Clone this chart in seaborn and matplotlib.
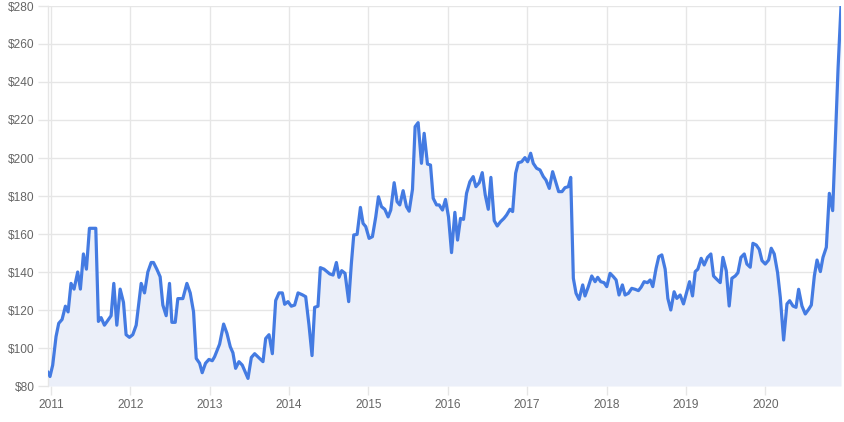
import matplotlib
matplotlib.use("Agg")
import matplotlib.pyplot as plt
import seaborn as sns

# Decimal-year positions of the points and the price at each point
years = [
    2010.958, 2010.987, 2011.021, 2011.063, 2011.097, 2011.139, 2011.181, 2011.215, 2011.252, 2011.290,
    2011.336, 2011.370, 2011.408, 2011.446, 2011.484, 2011.564, 2011.597, 2011.631, 2011.673, 2011.757,
    2011.791, 2011.829, 2011.871, 2011.913, 2011.946, 2011.988, 2012.030, 2012.073, 2012.136, 2012.178,
    2012.220, 2012.262, 2012.291, 2012.333, 2012.375, 2012.409, 2012.451, 2012.493, 2012.523, 2012.565,
    2012.598, 2012.661, 2012.712, 2012.754, 2012.796, 2012.830, 2012.872, 2012.905, 2012.947, 2012.990,
    2013.032, 2013.061, 2013.124, 2013.175, 2013.217, 2013.259, 2013.292, 2013.326, 2013.368, 2013.410,
    2013.482, 2013.524, 2013.566, 2013.671, 2013.705, 2013.747, 2013.789, 2013.831, 2013.873, 2013.915,
    2013.944, 2013.986, 2014.028, 2014.070, 2014.113, 2014.167, 2014.209, 2014.251, 2014.289, 2014.322,
    2014.364, 2014.394, 2014.440, 2014.512, 2014.554, 2014.596, 2014.629, 2014.663, 2014.705, 2014.751,
    2014.785, 2014.815, 2014.857, 2014.899, 2014.932, 2014.966, 2015.008, 2015.050, 2015.092, 2015.126,
    2015.164, 2015.206, 2015.248, 2015.281, 2015.324, 2015.361, 2015.395, 2015.437, 2015.479, 2015.513,
    2015.555, 2015.588, 2015.626, 2015.668, 2015.702, 2015.744, 2015.782, 2015.816, 2015.858, 2015.891,
    2015.933, 2015.971, 2016.009, 2016.047, 2016.089, 2016.123, 2016.160, 2016.198, 2016.236, 2016.278,
    2016.320, 2016.354, 2016.396, 2016.434, 2016.472, 2016.510, 2016.543, 2016.585, 2016.623, 2016.665,
    2016.707, 2016.741, 2016.783, 2016.817, 2016.855, 2016.888, 2016.930, 2016.972, 2017.006, 2017.044,
    2017.077, 2017.119, 2017.162, 2017.204, 2017.237, 2017.279, 2017.321, 2017.363, 2017.397, 2017.439,
    2017.477, 2017.519, 2017.549, 2017.582, 2017.616, 2017.654, 2017.700, 2017.729, 2017.771, 2017.814,
    2017.856, 2017.889, 2017.927, 2017.969, 2018.003, 2018.045, 2018.087, 2018.121, 2018.158, 2018.200,
    2018.234, 2018.276, 2018.318, 2018.360, 2018.402, 2018.436, 2018.474, 2018.516, 2018.550, 2018.583,
    2018.625, 2018.659, 2018.697, 2018.739, 2018.773, 2018.810, 2018.852, 2018.886, 2018.928, 2018.970,
    2019.012, 2019.046, 2019.084, 2019.118, 2019.151, 2019.193, 2019.231, 2019.273, 2019.315, 2019.349,
    2019.391, 2019.433, 2019.467, 2019.509, 2019.546, 2019.580, 2019.622, 2019.656, 2019.694, 2019.736,
    2019.769, 2019.811, 2019.845, 2019.887, 2019.925, 2019.959, 2020.001, 2020.043, 2020.076, 2020.114,
    2020.156, 2020.190, 2020.232, 2020.274, 2020.308, 2020.350, 2020.388, 2020.421, 2020.463, 2020.505,
    2020.548, 2020.581, 2020.619, 2020.653, 2020.695, 2020.728, 2020.770, 2020.808, 2020.850, 2020.884,
    2020.918, 2020.955,
]

prices = [
    87.5, 85, 91, 106, 113, 115, 122, 119, 134, 131,
    140, 131, 149.5, 141.5, 163, 163, 114, 116, 112, 117,
    134, 112, 131, 124, 107, 105.6, 107, 112, 134, 129,
    140, 145, 145, 141.5, 137.5, 122.6, 117, 134, 113.5, 113.5,
    126, 126, 134, 129, 119, 94.5, 92, 87, 92, 94,
    93.3, 95.4, 102, 112.6, 107.7, 100.6, 97.5, 89.3, 92.8, 91,
    84, 95, 97, 92.8, 105, 107, 97, 125, 129, 129,
    123, 124.4, 122, 122.6, 129, 128, 127, 112, 96, 121.4,
    122, 142.3, 141.5, 139, 138.4, 145, 137.2, 140.7, 139.3, 124.4,
    144.6, 159.5, 159.8, 174, 165.6, 163.9, 157.7, 158.6, 169, 179.6,
    174.4, 173, 169, 172.6, 187, 177, 175.3, 182.8, 174.4, 172,
    183.5, 216.5, 218.6, 197.2, 213, 196.8, 196.3, 178.8, 175.3, 175.3,
    172.6, 178.2, 169, 150.2, 171.4, 156.8, 168.2, 167.7, 181.4, 187.5,
    190.2, 184.9, 187, 192.3, 180.5, 173, 189.8, 167, 164.2, 166.5,
    168.2, 170, 173, 171.8, 192, 197.5, 198, 200.2, 198, 202.5,
    197.2, 194.6, 193.7, 190.2, 188.4, 184, 192.8, 187, 182.3, 182.3,
    184.4, 184.9, 189.8, 136.7, 128.8, 125.6, 133.2, 127.4, 132.3, 137.9,
    134.9, 137.2, 134.9, 134.4, 132.3, 139.3, 137.5, 135.8, 127.9, 133.2,
    127.9, 128.8, 131.4, 130.9, 130.2, 132, 134.9, 134.4, 135.8, 132.3,
    142, 148.1, 149, 141.5, 126.1, 120, 129.6, 126.1, 127.9, 123.2,
    129.6, 134.9, 127.4, 140.2, 141.5, 147.2, 143.7, 147.7, 149.5, 137.9,
    136.1, 134.4, 147.7, 140.7, 122.1, 136.7, 137.9, 139.6, 147.7, 149.5,
    144.2, 142.5, 155.1, 154.2, 151.9, 146, 144.2, 146.3, 152.5, 149.5,
    139.6, 126.7, 104.2, 123.2, 124.9, 122.1, 121.4, 130.9, 122.1, 117.9,
    120.4, 122.6, 137.9, 146.3, 140.2, 147.7, 153, 181.4, 172.3, 209.5,
    247.2, 280,
]

y_ticks = [80, 100, 120, 140, 160, 180, 200, 220, 240, 260, 280]
y_labels = ["$80", "$100", "$120", "$140", "$160", "$180", "$200", "$220", "$240", "$260", "$280"]
x_ticks = [2011, 2012, 2013, 2014, 2015, 2016, 2017, 2018, 2019, 2020]
x_labels = ["2011", "2012", "2013", "2014", "2015", "2016", "2017", "2018", "2019", "2020"]

assert len(years) == len(prices)

sns.set_theme(style="white")
plt.rcParams["font.family"] = ["Liberation Sans", "DejaVu Sans"]

LINE = "#447be2"
FILL = "#ebeff9"
GRID = "#e6e6e6"
TEXT = "#666666"

fig = plt.figure(figsize=(8.44, 4.22), dpi=100)
ax = fig.add_axes([47.7 / 844, 1 - 386 / 422, (841 - 47.7) / 844, 380 / 422])

ax.fill_between(years, prices, 80, color=FILL, linewidth=0, zorder=1)
sns.lineplot(x=years, y=prices, ax=ax, color=LINE, linewidth=2.3, zorder=3)

ax.set_xlim(years[0], years[-1])
ax.set_ylim(80, 280)
ax.set_yticks(y_ticks)
ax.set_yticklabels(y_labels)
ax.set_xticks(x_ticks)
ax.set_xticklabels(x_labels)
ax.set_xlabel("")
ax.set_ylabel("")

ax.grid(True, color=GRID, linewidth=1, zorder=0)
ax.set_axisbelow(True)
for side in ["top", "right", "bottom"]:
    ax.spines[side].set_visible(False)
ax.spines["left"].set_color(GRID)
ax.spines["left"].set_linewidth(1)

ax.tick_params(axis="y", length=7.2, width=1, color=GRID, pad=2.2,
               labelsize=8.6, labelcolor=TEXT, left=True)
ax.tick_params(axis="x", length=6.5, width=1, color=GRID, pad=3.0,
               labelsize=8.6, labelcolor=TEXT, bottom=True)

fig.savefig("out.png", dpi=100)
